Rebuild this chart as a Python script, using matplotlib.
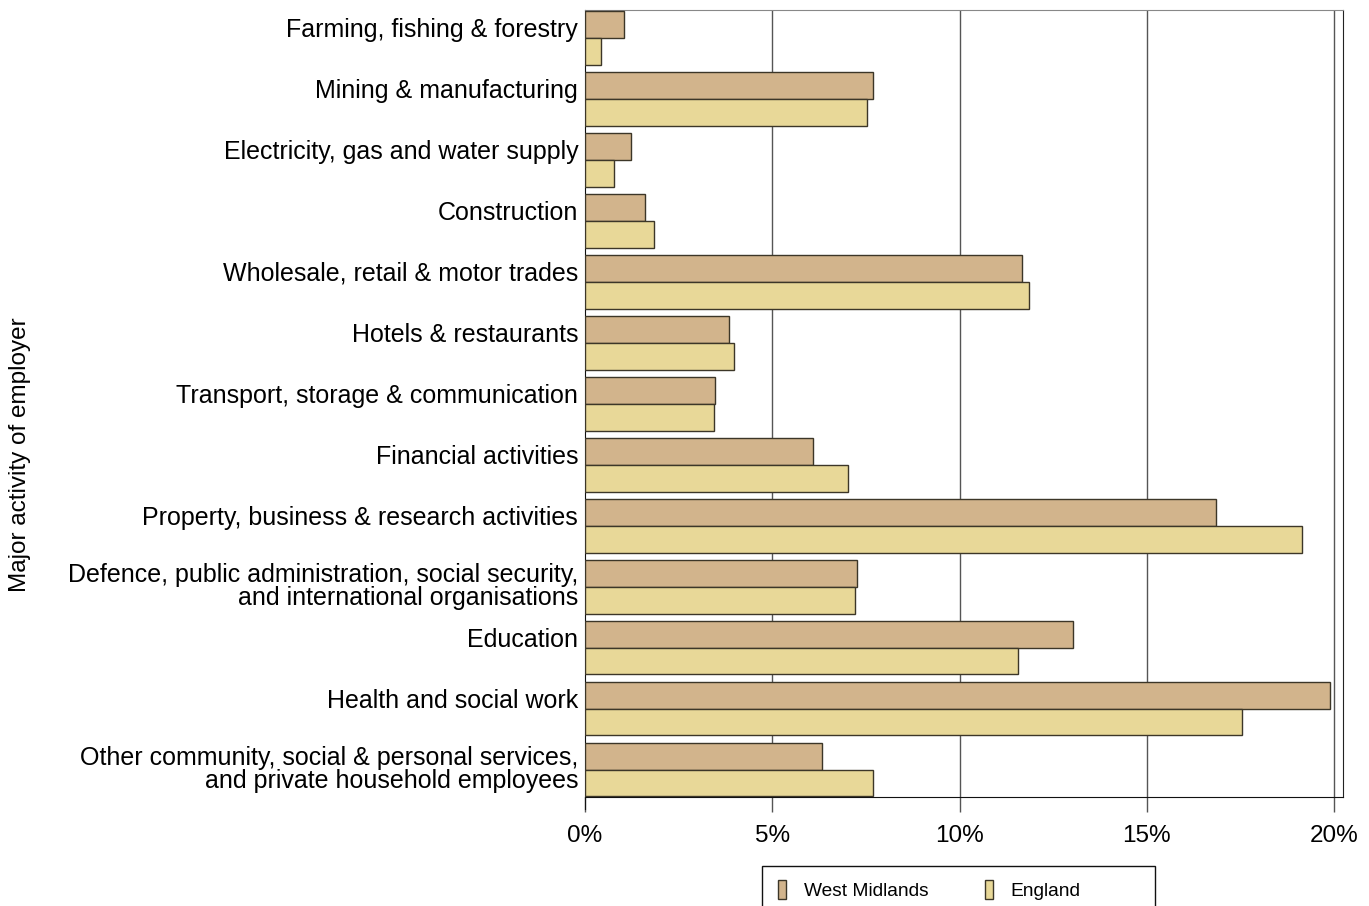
import numpy as np
import matplotlib.pyplot as plt
from matplotlib.patches import Rectangle
from matplotlib.transforms import blended_transform_factory

plt.rcParams['font.family'] = ['Liberation Sans', 'DejaVu Sans']

categories = [
    "Farming, fishing & forestry",
    "Mining & manufacturing",
    "Electricity, gas and water supply",
    "Construction",
    "Wholesale, retail & motor trades",
    "Hotels & restaurants",
    "Transport, storage & communication",
    "Financial activities",
    "Property, business & research activities",
    "Defence, public administration, social security,\nand international organisations",
    "Education",
    "Health and social work",
    "Other community, social & personal services,\nand private household employees",
]
west_midlands = [1.05, 7.7, 1.22, 1.6, 11.66, 3.84, 3.46, 6.1, 16.86, 7.25, 13.04, 19.9, 6.33]
england = [0.42, 7.52, 0.78, 1.85, 11.86, 3.99, 3.45, 7.02, 19.14, 7.22, 11.55, 17.54, 7.68]
series_names = ["West Midlands", "England"]
xticks = [0, 5, 10, 15, 20]
xtick_labels = ["0%", "5%", "10%", "15%", "20%"]

wm_color = "#D2B48C"
en_color = "#E8D898"
edge = "#3c3628"

W, H = 1369, 906
fig = plt.figure(figsize=(W / 100, H / 100), dpi=100)
ax = fig.add_axes([585 / W, 1 - 797 / H, (1343 - 585) / W, (797 - 10) / H])

y = np.arange(len(categories))
h = 0.44
ax.barh(y - h / 2, west_midlands, height=h, color=wm_color, edgecolor=edge, linewidth=1.0, zorder=3)
ax.barh(y + h / 2, england, height=h, color=en_color, edgecolor=edge, linewidth=1.0, zorder=3)

ax.set_ylim(len(categories) - 1 + h + 0.01, -h - 0.02)
ax.set_xlim(0, 20.24)

for v in xticks[1:]:
    ax.axvline(v, color="#555555", linewidth=1.0, zorder=1)

ax.set_yticks([])
ax.set_xticks(xticks)
ax.set_xticklabels(xtick_labels, fontsize=17.5)
ax.tick_params(axis="x", length=11, width=1.0, color="#555555", pad=9)

ax.spines["top"].set_color("#888888")
ax.spines["right"].set_color("#222222")
ax.spines["bottom"].set_color("#111111")
ax.spines["left"].set_color("#111111")
ax.spines["left"].set_bounds(len(categories) - 1 + h + 0.2, -h - 0.02)

trans = blended_transform_factory(ax.transAxes, ax.transData)
for i, lab in enumerate(categories):
    off = 0.0 if "\n" in lab else -0.13
    ax.text(-0.009, i + off, lab, transform=trans, ha="right", va="center",
            fontsize=18, linespacing=0.92, clip_on=False)

fig.text(20 / W, 1 - 455 / H, "Major activity of employer", rotation=90,
         ha="center", va="center", fontsize=17.5)

# legend drawn by hand: the R-style box runs off the bottom edge
def px(x0, y0, x1, y1):
    return (x0 / W, 1 - y1 / H), (x1 - x0) / W, (y1 - y0) / H

xy, w, hh = px(762, 866, 1155, 925)
fig.patches.append(Rectangle(xy, w, hh, transform=fig.transFigure, fill=False,
                             edgecolor="#111111", linewidth=1.0))
for (mx, tx), name, col in zip([(778, 804), (985, 1010)], series_names, [wm_color, en_color]):
    xy, w, hh = px(mx, 880, mx + 8, 899)
    fig.patches.append(Rectangle(xy, w, hh, transform=fig.transFigure,
                                 facecolor=col, edgecolor=edge, linewidth=1.0))
    fig.text(tx / W, 1 - 891 / H, name, ha="left", va="center", fontsize=13.8)

fig.savefig("out.png", dpi=100, facecolor="white")
